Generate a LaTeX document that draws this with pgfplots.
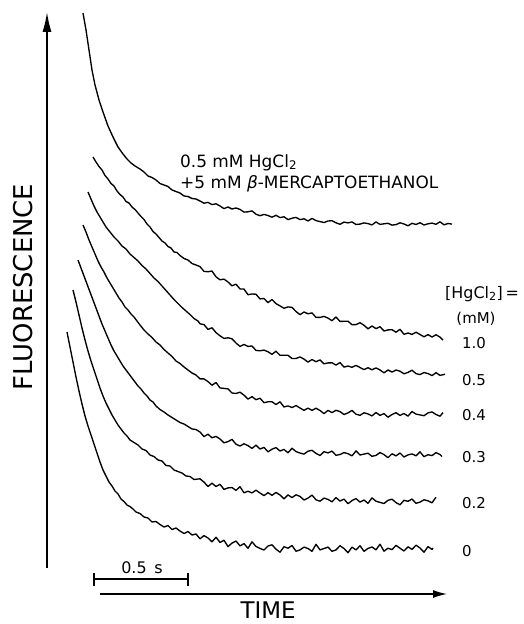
\documentclass[border=0pt]{standalone}
\usepackage{pgfplots}
\pgfplotsset{compat=1.18}
\usepackage{fontspec}
\setmainfont{DejaVu Sans}
\usetikzlibrary{arrows.meta}

\newcommand{\fs}[1]{\fontsize{#1}{#1}\selectfont}

\begin{document}
\begin{tikzpicture}
\begin{axis}[
  hide axis,
  scale only axis,
  width=524bp, height=624bp,
  xmin=0, xmax=524, ymin=0, ymax=624,
  y dir=reverse,
  clip=false,
  trace/.style={black, solid, line width=1.35bp, line join=round, mark=none},
]
\path[draw=none] (axis cs:0,0) rectangle (axis cs:524,624);

% 0.5 mM HgCl2 + 5 mM mercaptoethanol
\addplot[trace] coordinates {
(83,13) (86,30) (89,50) (92,70) (95,85) (99,100) (103,112) (108,126) (113,137) (118,147)
(123,154) (127,159) (131,163) (135,166) (140,169) (144,172) (148,176) (152,177.5) (156,180) (160,183.5)
(164,185) (168,186.5) (172,190) (176,191.5) (180,193) (184,196) (188,196.5) (192,198.5) (196,199)
(200,201) (204,203.2) (208,202.4) (212,204.6) (216,203.8) (220,206) (224,208.6) (228,207) (232,209) (236,208)
(240,209.4) (244,212.1) (248,211.8) (252,210.9) (256,214.2) (260,215.7) (264,214.4) (268,215.5) (272,217.2) (276,215.3)
(280,217.6) (284,216.8) (288,219.6) (292,218.2) (296,217.4) (300,219.6) (304,218.8) (308,221) (312,218.4) (316,220.6)
(320,221.6) (324,222.5) (328,221) (332,220.7) (336,222.8) (340,224.3) (344,222.1) (348,222.9) (352,221.9) (356,224.5)
(360,224.1) (364,222.9) (368,223.6) (372,224.9) (376,221.9) (380,224.4) (384,223.8) (388,223.3) (392,225.1) (396,224.6)
(400,222.8) (404,224) (408,225.8) (412,223.3) (416,224.5) (420,222.7) (424,225) (428,223.8) (432,223.1) (436,224.3)
(440,221.8) (444,224.8) (448,223.5) (452,224.1)
};

% 1.0 mM
\addplot[trace] coordinates {
(93,157) (96,162) (99,166.5) (102,170) (105,175.5) (108,179) (111,183.5) (114,186) (117,191) (120,194.5)
(123,197) (126,201.5) (129,203) (132,207) (135,209.5) (138,213) (141,216.5) (144,219.5) (147,224) (150,227)
(153,231.5) (156,234) (159,237.5) (162,241) (165,243) (168,246.5) (171,248) (174,252) (177,252.5) (180,255.5)
(184,258.5) (188,260) (192,263.5) (196,265)
(200,266.6) (204,271.4) (208,271.7) (212,271.1) (216,276.8) (220,279.8) (224,279.1) (228,282) (232,285.8) (236,284.2)
(240,288.9) (244,289.1) (248,294.7) (252,294) (256,294.2) (260,298.9) (264,298.5) (268,302.6) (272,299.5) (276,303.6)
(280,305.9) (284,308.2) (288,306.9) (292,307.4) (296,311.5) (300,314.7) (304,312) (308,313.8) (312,312.9) (316,317.4)
(320,317.4) (324,316.4) (328,318.1) (332,320.7) (336,317) (340,321.4) (344,321.3) (348,321.2) (352,324.7) (356,324.6)
(360,322.7) (364,325.3) (368,328.8) (372,326) (376,328.6) (380,326.7) (384,331) (388,329.9) (392,329.7) (396,332.2)
(400,329.3) (404,334.3) (408,333) (412,334.4) (416,332.2) (420,334.5) (424,336.8) (428,334.6) (432,337) (436,334.8)
(440,337.1) (443,340.2)
};

% 0.5 mM
\addplot[trace] coordinates {
(88,192) (91,199) (94,206) (97,212) (100,217) (103,222) (106,227) (110,232) (114,237) (118,241)
(122,246) (126,249) (130,254) (134,257.5) (138,261) (142,265.5) (146,269) (150,273.5) (154,278) (158,281.5)
(162,286) (166,290.5) (170,295) (174,299.5) (178,303.5) (182,307.5) (186,311) (190,314.5) (194,318.5) (198,321)
(200,323.8) (204,324.6) (208,329.4) (212,327.8) (216,332.6) (220,335.8) (224,338.4) (228,337.8) (232,338.8) (236,343)
(240,346.4) (244,344.4) (248,346.4) (252,346) (256,350.4) (260,350.8) (264,350.1) (268,351.8) (272,354.3) (276,351.2)
(280,355.3) (284,355.3) (288,355.3) (292,358.5) (296,358.5) (300,356.9) (304,359.1) (308,362.1) (312,359.5) (316,361.7)
(320,359.9) (324,363.8) (328,362.9) (332,362.8) (336,365.1) (340,362.6) (344,367.1) (348,366) (352,367.3) (356,365.4)
(360,367.5) (364,369.6) (368,367.7) (372,369.8) (376,367.9) (380,370) (384,372.8) (388,370) (392,372) (396,370)
(400,371.2) (404,373.8) (408,372.4) (412,370.2) (416,373.6) (420,374.6) (424,372.5) (428,373.6) (432,375.6) (436,372.7)
(440,375.4) (445,374.2)
};

% 0.4 mM
\addplot[trace] coordinates {
(83,225) (86,232) (89,240) (92,247) (95,254) (98,261) (101,267) (104,272) (107,278) (110,283)
(113,288) (116,293) (119,298) (122,302) (125,307) (128,310) (131,314) (134,317) (137,321) (140,325)
(144,330) (148,334) (152,337.5) (156,342) (160,345) (164,349.5) (168,353) (172,356.5) (176,361) (180,363.5)
(184,367) (188,370) (192,373) (196,375)
(200,378.9) (204,378.9) (208,381.6) (212,385.2) (216,382.5) (220,387.9) (224,388.4) (228,388.9) (232,393) (236,393.5)
(240,392.2) (244,395.2) (248,399.1) (252,396.7) (256,399.7) (260,398.2) (264,402.7) (268,401.8) (272,401.8) (276,404.5)
(280,401.8) (284,407) (288,405.9) (292,407.5) (296,405.5) (300,408) (304,410.3) (308,408.1) (312,410.4) (316,408.2)
(320,410.5) (324,413.6) (328,410.4) (332,412.6) (336,410.3) (340,411.6) (344,414.5) (348,412.9) (352,410.4) (356,414.2)
(360,415.3) (364,412.8) (368,413.9) (372,415.9) (376,412.5) (380,415.4) (384,413.6) (388,417.2) (392,414.5) (396,412.7)
(400,415.4) (404,413.5) (408,416.1) (412,411.5) (416,414.1) (420,414.9) (424,415.7) (428,412.9) (432,411.9) (436,414.5)
(440,416.2) (443,412.6)
};

% 0.3 mM
\addplot[trace] coordinates {
(78,260) (81,268) (84,276) (87,284) (90,292) (93,300) (96,308) (99,316) (102,324) (105,331)
(108,338) (111,345) (114,351) (117,356) (120,361) (123,366) (126,370) (129,374) (132,378) (135,382)
(138,386) (141,389) (144,393) (147,396) (150,400) (153,402) (156,406) (160,409.5) (164,412) (168,415)
(172,417.5) (176,420) (180,422.5) (184,424) (188,426.5) (192,429) (196,429.5)
(200,432) (204,436.6) (208,434.2) (212,437.8) (216,436.4) (220,439) (224,442.8) (228,441.6) (232,439.4) (236,444.2)
(240,446) (244,443.8) (248,445.6) (252,448.4) (256,445.2) (260,449) (264,447.4) (268,451.8) (272,449.2) (276,447.6)
(280,451) (284,449.4) (288,452.8) (292,448.2) (296,451.6) (300,453) (304,454.1) (308,451.2) (312,450.3) (316,453.4)
(320,455.5) (324,451.7) (328,452.9) (332,451.1) (336,455.3) (340,454.5) (344,452.6) (348,453.7) (352,455.8) (356,450.9)
(360,455) (364,454.1) (368,453.2) (372,456.3) (376,455.4) (380,452.5) (384,454.6) (388,457.7) (392,453.8) (396,455.9)
(400,453) (404,457) (408,454.9) (412,453.9) (416,455.8) (420,451.8) (424,456.7) (428,454.7) (432,455.6) (436,452.6)
(440,454.5) (442,456.5)
};

% 0.2 mM
\addplot[trace] coordinates {
(73,290) (76,302) (79,315) (82,328) (85,340) (88,351) (91,361) (94,370) (97,379) (100,388)
(103,396) (106,403) (109,409) (112,415) (115,420) (118,425) (121,429) (124,433) (127,436) (130,440)
(134,442.5) (138,445) (142,449) (146,450.5) (150,455) (154,456.5) (158,460) (162,461) (166,465.5) (170,466)
(174,470) (178,471.5) (182,473) (186,476) (190,476.5) (194,479.5) (198,479)
(200,478.8) (204,482.1) (208,486.5) (212,483.2) (216,486.5) (220,484.3) (224,489.4) (228,487.9) (232,487.5) (236,490.4)
(240,486.7) (244,492.8) (248,491.2) (252,492.9) (256,490.2) (260,493) (264,495.6) (268,492.7) (272,495.3) (276,492.4)
(280,495) (284,498.8) (288,494.9) (292,497.6) (296,494.8) (300,496.4) (304,500) (308,498.1) (312,495.1) (316,499.8)
(320,501.2) (324,498.1) (328,499.4) (332,501.8) (336,497.6) (340,501.1) (344,499.1) (348,503.7) (352,500.6) (356,498.6)
(360,502.1) (364,500) (368,503.3) (372,497.9) (376,501.2) (380,502.4) (384,503.5) (388,500.3) (392,499.2) (396,502.6)
(400,504.8) (404,500.3) (408,501.3) (412,499) (416,503.3) (420,502.1) (424,499.8) (428,500.8) (432,502.8) (436,497.2)
};

% 0 mM
\addplot[trace] coordinates {
(67,332) (70,347) (73,362) (76,377) (79,391) (82,404) (85,416) (88,426) (91,435) (94,444)
(97,453) (100,462) (103,470) (106,476) (109,482) (112,486) (115,491) (118,494) (121,499)
(124,501.5) (127,505) (130,506.5) (133,509) (136,512) (140,513.5) (144,517) (148,518) (152,522) (156,521.5)
(160,524.5) (164,527) (168,525.5) (172,529.5) (176,528) (180,531) (184,533.5) (188,531.5) (192,535) (196,534)
(200,538.8) (204,535.6) (208,538) (212,541.8) (216,537.2) (220,542.4) (224,540.3) (228,546.6) (232,543.1) (236,541)
(240,545.9) (244,543.6) (248,548.3) (252,541.8) (256,546.5) (260,548.4) (264,550) (268,546) (272,544.8) (276,549.2)
(280,552.2) (284,546.7) (288,548.2) (292,545.5) (296,551.2) (300,549.9) (304,547.1) (308,548.5) (312,551.3) (316,544.3)
(320,549.9) (324,548.5) (328,547.1) (332,551.3) (336,549.9) (340,545.7) (344,548.5) (348,552.7) (352,547.1) (356,549.9)
(360,545.7) (364,551.3) (368,548.4) (372,547) (376,549.8) (380,544.2) (384,551.2) (388,548.2) (392,549.6) (396,545.4)
(400,548.2) (404,551) (408,546.8) (412,549.4) (416,545.2) (420,548) (424,552.2) (428,546.6) (432,549.4) (433,548)
};

% axes
\draw[line width=1.6bp, -{Latex[length=20bp,width=9bp]}] (axis cs:47,568) -- (axis cs:47,12);
\draw[line width=1.4bp, -{Latex[length=14bp,width=8bp]}] (axis cs:100,594) -- (axis cs:447,594);
\node[rotate=90, anchor=center, inner sep=0pt] at (axis cs:23,287) {\fs{26}FLUORESCENCE};
\node[anchor=base, inner sep=0pt] at (axis cs:268,618) {\fs{23}TIME};

% scale bar
\draw[line width=1.2bp] (axis cs:94,579) -- (axis cs:188,579);
\draw[line width=1.2bp] (axis cs:94,573) -- (axis cs:94,586);
\draw[line width=1.2bp] (axis cs:188,573) -- (axis cs:188,586);
\node[anchor=base, inner sep=0pt] at (axis cs:142,573) {\fs{16}0.5\,\ s};

% annotations
\node[anchor=base west, inner sep=0pt] at (axis cs:180,167) {\fs{17}0.5 mM HgCl\textsubscript{2}};
\node[anchor=base west, inner sep=0pt] at (axis cs:180,188) {\fs{17}+5 mM {\itshape β}-MERCAPTOETHANOL};

\node[anchor=base west, inner sep=0pt] at (axis cs:445,298) {\fs{16}[HgCl\textsubscript{2}]\,=};
\node[anchor=base, inner sep=0pt] at (axis cs:476,323) {\fs{15}(mM)};
\node[anchor=base west, inner sep=0pt] at (axis cs:462,348) {\fs{15}1.0};
\node[anchor=base west, inner sep=0pt] at (axis cs:462,385) {\fs{15}0.5};
\node[anchor=base west, inner sep=0pt] at (axis cs:462,420) {\fs{15}0.4};
\node[anchor=base west, inner sep=0pt] at (axis cs:462,462) {\fs{15}0.3};
\node[anchor=base west, inner sep=0pt] at (axis cs:462,508) {\fs{15}0.2};
\node[anchor=base west, inner sep=0pt] at (axis cs:462,556) {\fs{15}0};
\end{axis}
\end{tikzpicture}
\end{document}
